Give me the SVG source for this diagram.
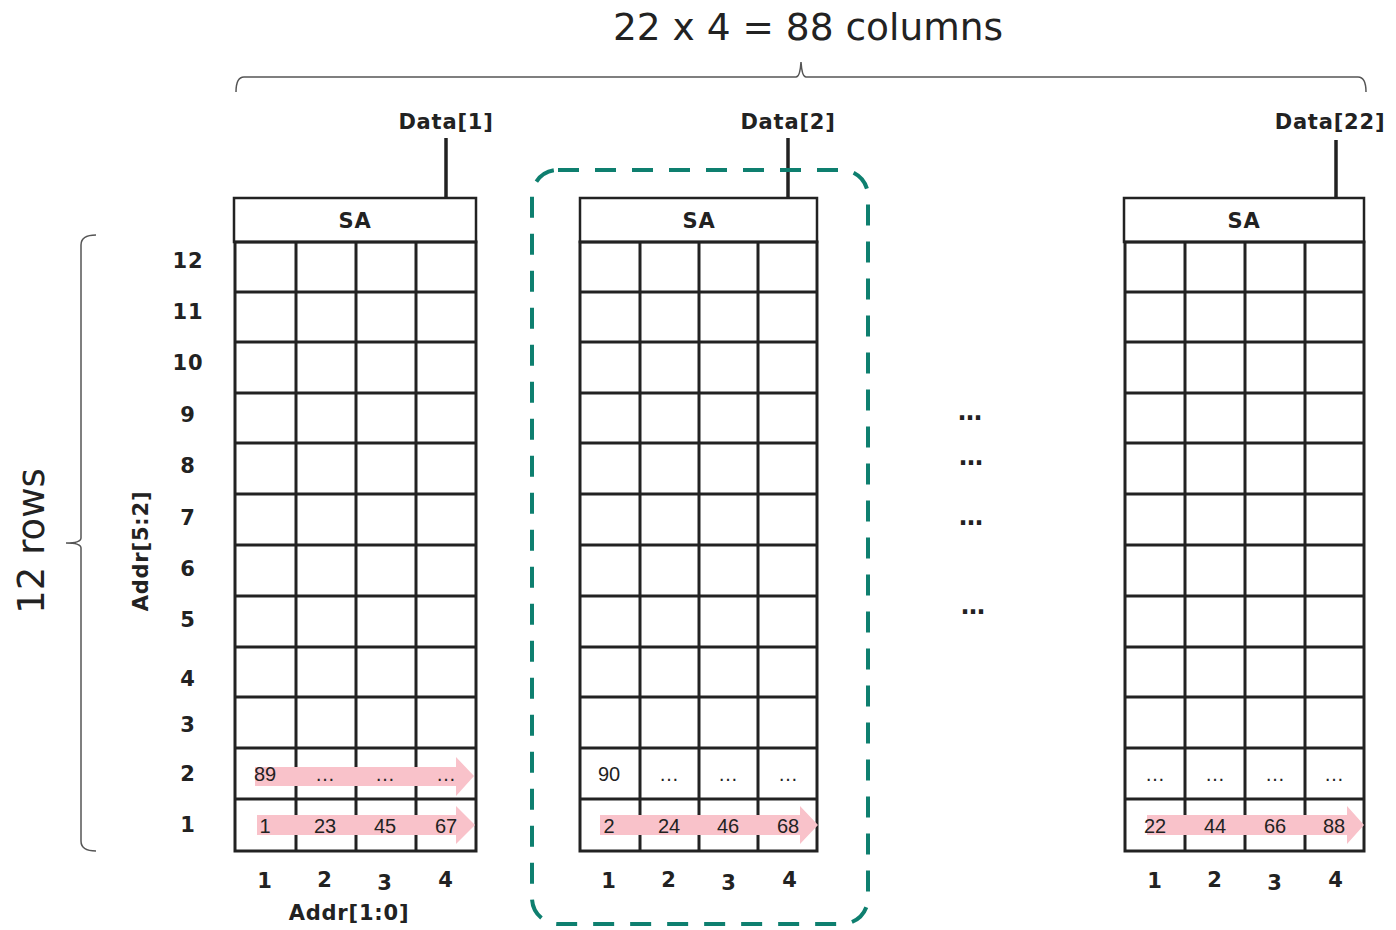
<svg xmlns="http://www.w3.org/2000/svg" width="1396" height="930" viewBox="0 0 1396 930">
  <defs>
    <style>
      .bg { fill: #ffffff; }
      .sa { fill: #ffffff; stroke: #222; stroke-width: 2.5; }
      .grid { fill: none; stroke: #222; stroke-width: 3; }
      .wire { stroke: #222; stroke-width: 3.5; }
      .brace { fill: none; stroke: #555; stroke-width: 1.5; }
      .flow { fill: #f9c2ca; }
      .lbl { font-family: "DejaVu Sans", Verdana, sans-serif; font-weight: bold; fill: #222; text-anchor: middle; letter-spacing: 0.8px; }
      .cell { font-family: "Liberation Sans", Arial, sans-serif; font-size: 20px; fill: #222; text-anchor: middle; }
      .big { font-family: "DejaVu Sans", sans-serif; fill: #222; text-anchor: middle; }
      .dots { font-family: "DejaVu Sans", sans-serif; font-weight: bold; font-size: 24px; fill: #222; text-anchor: middle; }
      .focus { fill: none; stroke: #0e7f6f; stroke-width: 4; stroke-dasharray: 21 16; }
    </style>
  </defs>

  <rect class="bg" x="0" y="0" width="1396" height="930"/>

  <!-- title and column brace -->
  <g id="columns-brace">
    <text class="big" x="808" y="40" font-size="37.5">22 x 4 = 88 columns</text>
    <path class="brace" d="M236,92 Q236,77 244,77 L796,77 Q800,77 801,62 Q802,77 806,77 L1358,77 Q1366,77 1366,92"/>
  </g>

  <!-- row brace and labels -->
  <g id="rows-brace">
    <text class="big" transform="translate(44,541) rotate(-90)" font-size="37">12 rows</text>
    <path class="brace" d="M96,235 Q81,235 81,245 L81,538 Q81,543 66,543 Q81,543 81,548 L81,841 Q81,851 96,851"/>
  </g>

  <g id="row-labels">
    <text class="lbl" transform="translate(148,551) rotate(-90)" font-size="21">Addr[5:2]</text>
    <text class="lbl" x="188" y="268" font-size="21">12</text>
    <text class="lbl" x="188" y="319" font-size="21">11</text>
    <text class="lbl" x="188" y="370" font-size="21">10</text>
    <text class="lbl" x="188" y="422" font-size="21">9</text>
    <text class="lbl" x="188" y="473" font-size="21">8</text>
    <text class="lbl" x="188" y="525" font-size="21">7</text>
    <text class="lbl" x="188" y="576" font-size="21">6</text>
    <text class="lbl" x="188" y="627" font-size="21">5</text>
    <text class="lbl" x="188" y="686" font-size="21">4</text>
    <text class="lbl" x="188" y="732" font-size="21">3</text>
    <text class="lbl" x="188" y="781" font-size="21">2</text>
    <text class="lbl" x="188" y="832" font-size="21">1</text>
  </g>

  <!-- data output wires -->
  <g id="connectors">
    <line class="wire" x1="446" y1="138" x2="446" y2="198"/>
    <line class="wire" x1="788" y1="138" x2="788" y2="198"/>
    <line class="wire" x1="1336" y1="140" x2="1336" y2="198"/>
  </g>

  <!-- bank 1 -->
  <g id="bank-1">
    <text class="lbl" x="446" y="129" font-size="21">Data[1]</text>
    <rect class="sa" x="234" y="198" width="242" height="44"/>
    <text class="lbl" x="355" y="228" font-size="21">SA</text>
    <rect class="grid" x="235" y="242" width="241" height="609"/>
    <path class="grid" d="M296,242V851M356,242V851M416,242V851
      M235,292H476M235,342H476M235,393H476M235,443H476M235,494H476M235,545H476
      M235,596H476M235,647H476M235,697H476M235,748H476M235,799H476"/>
    <polygon class="flow" points="255,767 456,767 456,757 474,776 456,796 456,786 255,786"/>
    <polygon class="flow" points="257,815 456,815 456,806 475,825 456,844 456,835 257,835"/>
    <text class="cell" x="265" y="781">89</text>
    <text class="cell" x="325" y="781">…</text>
    <text class="cell" x="385" y="781">…</text>
    <text class="cell" x="446" y="781">…</text>
    <text class="cell" x="265" y="833">1</text>
    <text class="cell" x="325" y="833">23</text>
    <text class="cell" x="385" y="833">45</text>
    <text class="cell" x="446" y="833">67</text>
    <text class="lbl" x="265" y="888" font-size="21">1</text>
    <text class="lbl" x="325" y="887" font-size="21">2</text>
    <text class="lbl" x="385" y="890" font-size="21">3</text>
    <text class="lbl" x="446" y="887" font-size="21">4</text>
    <text class="lbl" x="349" y="920" font-size="21">Addr[1:0]</text>
  </g>

  <!-- bank 2 (highlighted) -->
  <g id="bank-2">
    <rect class="sa" x="580" y="198" width="237" height="44"/>
    <text class="lbl" x="699" y="228" font-size="21">SA</text>
    <text class="lbl" x="788" y="129" font-size="21">Data[2]</text>
    <rect class="grid" x="580" y="242" width="237" height="609"/>
    <path class="grid" d="M640,242V851M699,242V851M758,242V851
      M580,292H817M580,342H817M580,393H817M580,443H817M580,494H817M580,545H817
      M580,596H817M580,647H817M580,697H817M580,748H817M580,799H817"/>
    <polygon class="flow" points="600,815 800,815 800,806 818,825 800,844 800,835 600,835"/>
    <text class="cell" x="609" y="781">90</text>
    <text class="cell" x="669" y="781">…</text>
    <text class="cell" x="728" y="781">…</text>
    <text class="cell" x="788" y="781">…</text>
    <text class="cell" x="609" y="833">2</text>
    <text class="cell" x="669" y="833">24</text>
    <text class="cell" x="728" y="833">46</text>
    <text class="cell" x="788" y="833">68</text>
    <text class="lbl" x="609" y="888" font-size="21">1</text>
    <text class="lbl" x="669" y="887" font-size="21">2</text>
    <text class="lbl" x="729" y="890" font-size="21">3</text>
    <text class="lbl" x="790" y="887" font-size="21">4</text>
    <rect class="focus" x="532" y="170" width="336" height="754" rx="26" ry="26"/>
  </g>

  <!-- elided banks -->
  <g id="gap">
    <text class="dots" x="970" y="420">…</text>
    <text class="dots" x="971" y="465">…</text>
    <text class="dots" x="971" y="525">…</text>
    <text class="dots" x="973" y="614">…</text>
  </g>

  <!-- bank 22 -->
  <g id="bank-22">
    <text class="lbl" x="1330" y="129" font-size="21">Data[22]</text>
    <rect class="sa" x="1124" y="198" width="240" height="44"/>
    <text class="lbl" x="1244" y="228" font-size="21">SA</text>
    <rect class="grid" x="1125" y="242" width="239" height="609"/>
    <path class="grid" d="M1185,242V851M1245,242V851M1305,242V851
      M1125,292H1364M1125,342H1364M1125,393H1364M1125,443H1364M1125,494H1364M1125,545H1364
      M1125,596H1364M1125,647H1364M1125,697H1364M1125,748H1364M1125,799H1364"/>
    <polygon class="flow" points="1147,815 1347,815 1347,806 1364,825 1347,844 1347,835 1147,835"/>
    <text class="cell" x="1155" y="781">…</text>
    <text class="cell" x="1215" y="781">…</text>
    <text class="cell" x="1275" y="781">…</text>
    <text class="cell" x="1334" y="781">…</text>
    <text class="cell" x="1155" y="833">22</text>
    <text class="cell" x="1215" y="833">44</text>
    <text class="cell" x="1275" y="833">66</text>
    <text class="cell" x="1334" y="833">88</text>
    <text class="lbl" x="1155" y="888" font-size="21">1</text>
    <text class="lbl" x="1215" y="887" font-size="21">2</text>
    <text class="lbl" x="1275" y="890" font-size="21">3</text>
    <text class="lbl" x="1336" y="887" font-size="21">4</text>
  </g>
</svg>
